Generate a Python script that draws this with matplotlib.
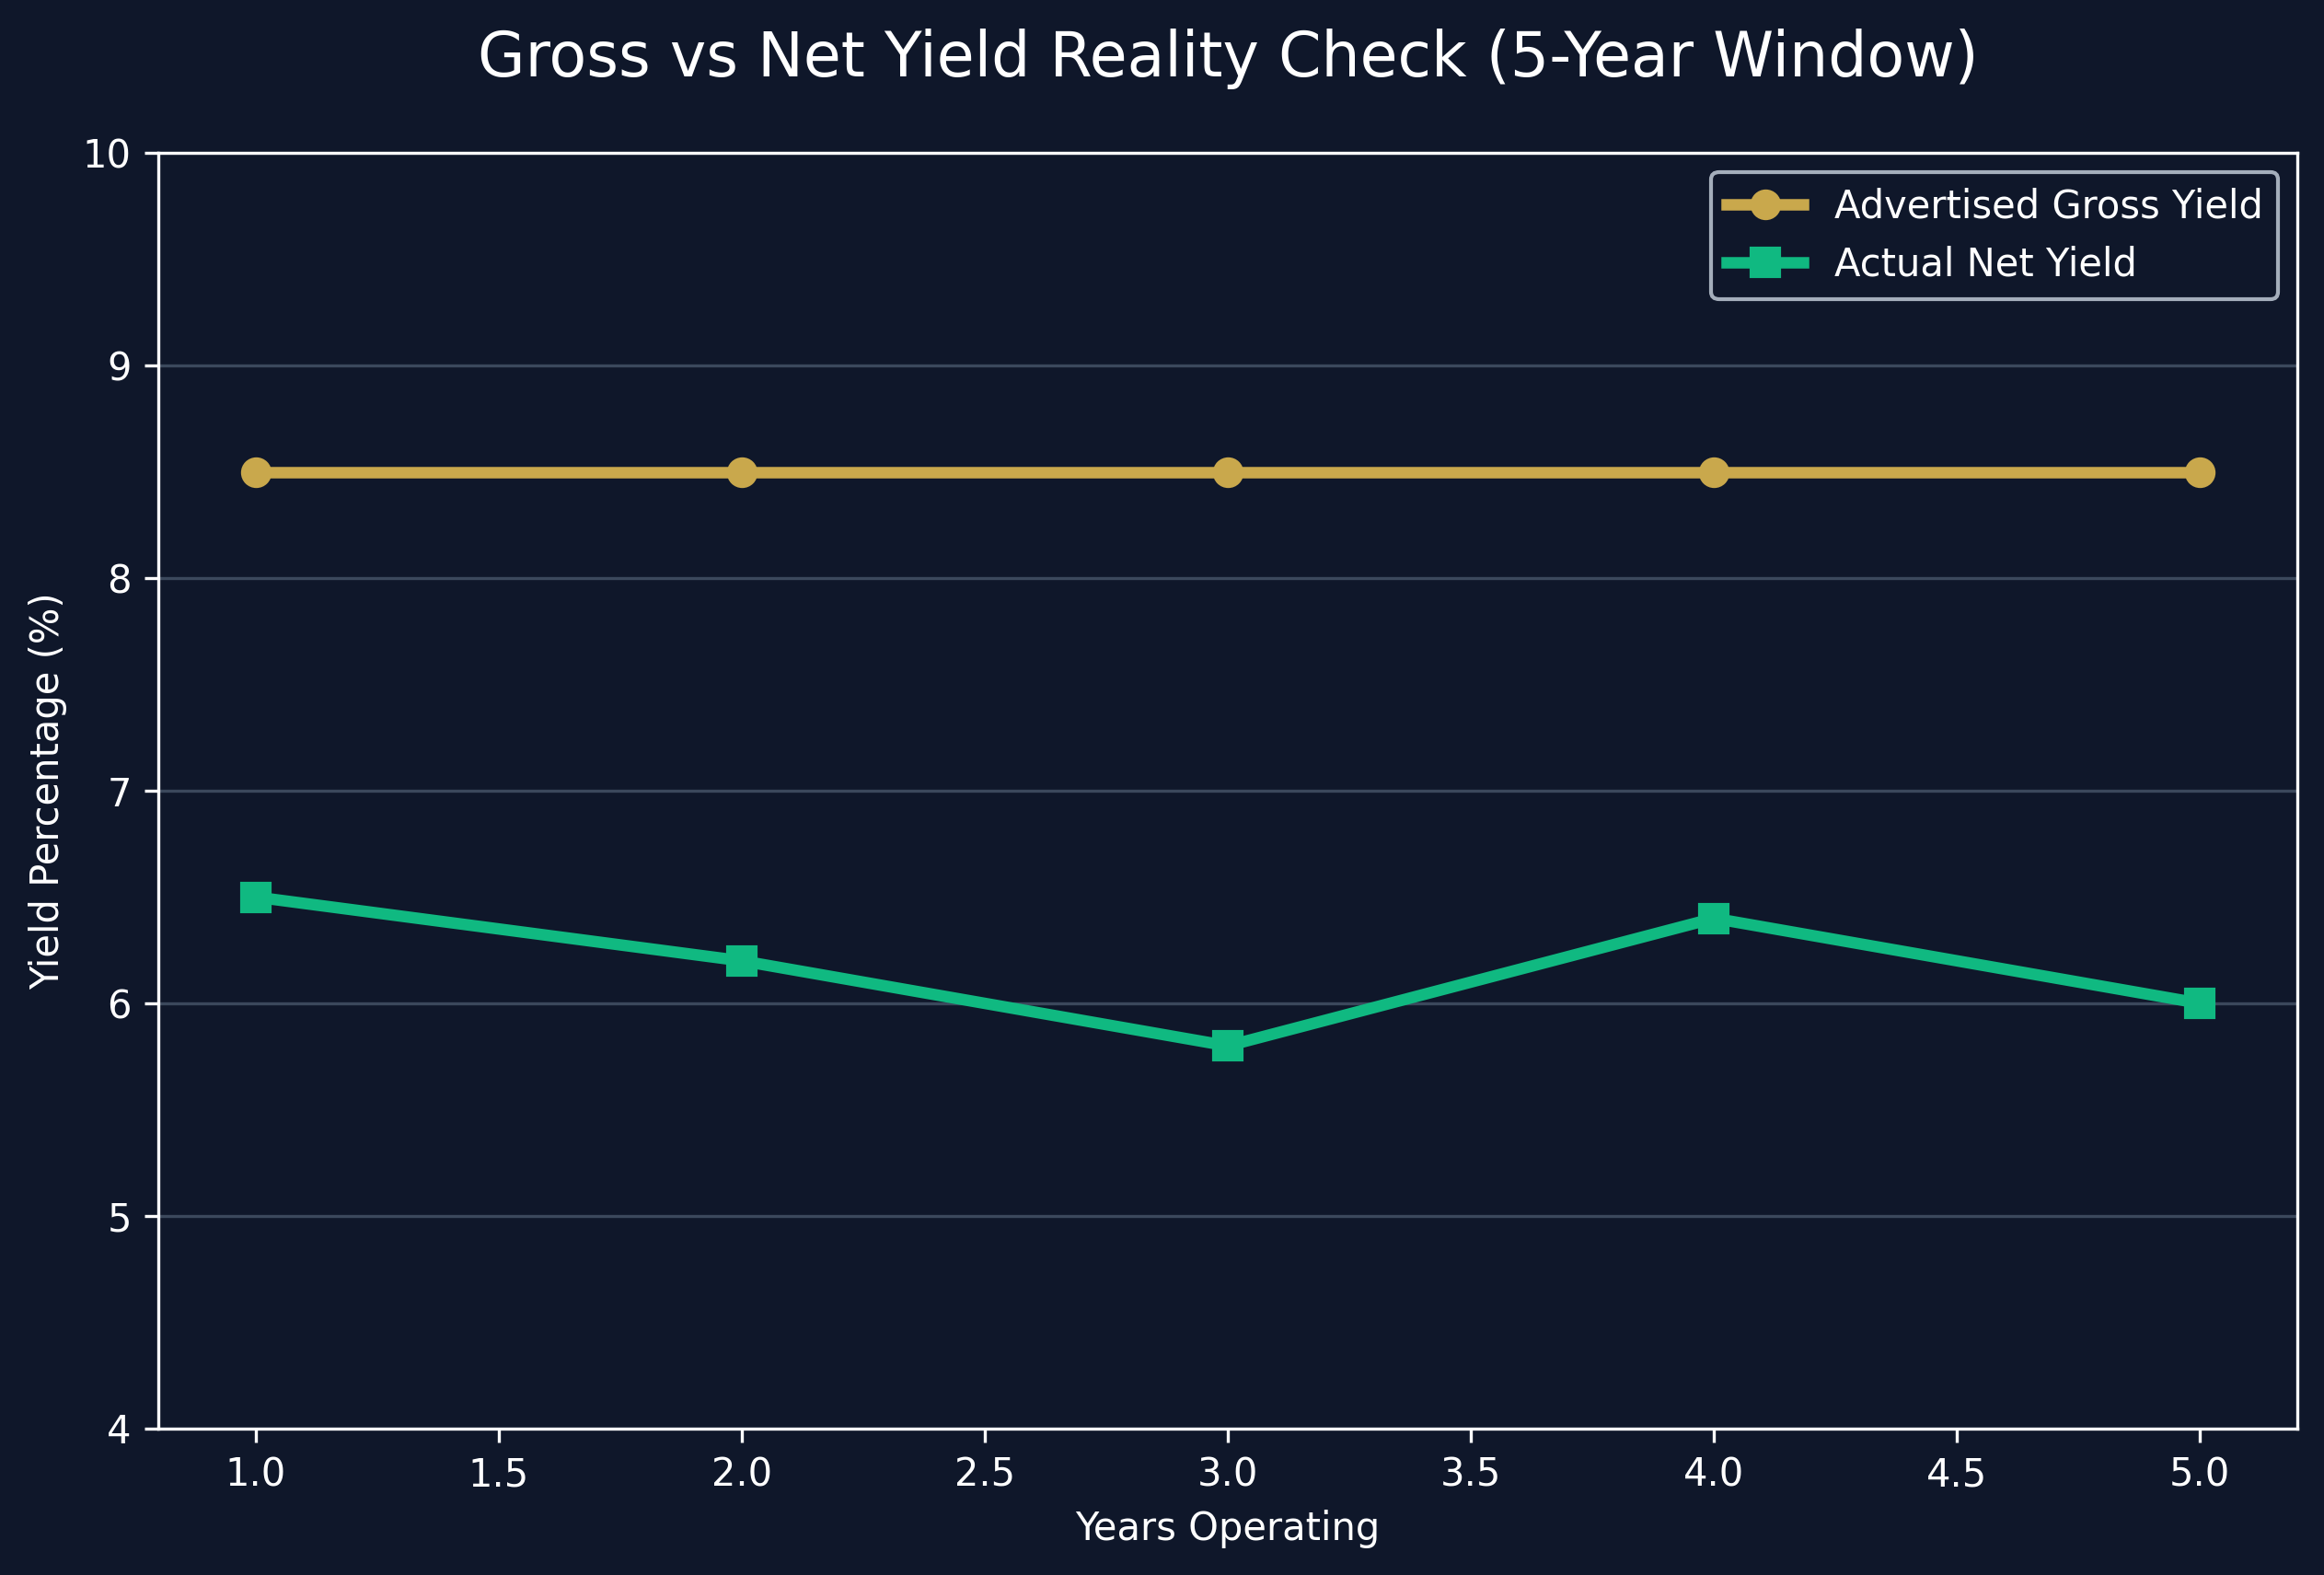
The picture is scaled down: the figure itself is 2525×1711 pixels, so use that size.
import matplotlib
matplotlib.use("Agg")
import matplotlib.pyplot as plt

years = [1, 2, 3, 4, 5]
gross_yield = [8.5, 8.5, 8.5, 8.5, 8.5]
net_yield = [6.5, 6.2, 5.8, 6.4, 6.0]

bg = "#0f172a"
gold = "#c9a84c"
green = "#10b981"

fig = plt.figure(figsize=(2525 / 300, 1711 / 300), dpi=300, facecolor=bg)
ax = fig.add_axes([172 / 2525, 1 - 1552 / 1711, (2496 - 172) / 2525, (1552 - 166) / 1711])
ax.set_facecolor(bg)

ax.plot(years, gross_yield, marker="o", color=gold, lw=3, ms=7, label="Advertised Gross Yield")
ax.plot(years, net_yield, marker="s", color=green, lw=3, ms=7, label="Actual Net Yield")

ax.set_ylim(4, 10)
ax.set_xlim(0.8, 5.2)
ax.set_title("Gross vs Net Yield Reality Check (5-Year Window)", color="white", fontsize=16, pad=20)
ax.set_xlabel("Years Operating", color="white", fontsize=10)
ax.set_ylabel("Yield Percentage (%)", color="white", fontsize=10)
ax.tick_params(colors="white", labelsize=10)
for s in ax.spines.values():
    s.set_color("white")
ax.grid(axis="y", color="#475569", alpha=0.8, lw=0.8)
ax.set_axisbelow(True)

leg = ax.legend(loc="upper right", facecolor=bg, edgecolor="#cbd5e1", fontsize=10)
for t in leg.get_texts():
    t.set_color("white")

fig.savefig("out.png", dpi=300, facecolor=bg)
